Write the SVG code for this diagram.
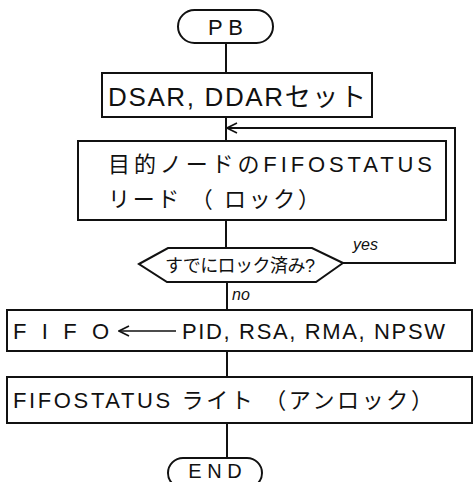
<svg xmlns="http://www.w3.org/2000/svg" width="473" height="482" viewBox="0 0 473 482">
<style>
.s{fill:#fff;stroke:#111;stroke-width:2}
.c{fill:none;stroke:#111;stroke-width:2}
text{font-family:"Liberation Sans","Noto Sans CJK JP",sans-serif;fill:#111}
.t{font-size:22px}
.l{font-size:16px;font-style:italic}
</style>
<defs>
<marker id="ah" viewBox="0 0 12 12" refX="11" refY="6" markerWidth="12" markerHeight="12" markerUnits="userSpaceOnUse" orient="auto">
<path d="M1,1 L11,6 L1,11" fill="none" stroke="#111" stroke-width="1.6"/>
</marker>
</defs>
<rect width="473" height="482" fill="#fff"/>
<g id="connectors">
<line class="c" x1="226" y1="43" x2="226" y2="73"/>
<line class="c" x1="226" y1="117" x2="226" y2="141"/>
<line class="c" x1="226" y1="220" x2="226" y2="248"/>
<line class="c" x1="227" y1="282" x2="227" y2="310"/>
<line class="c" x1="227" y1="351" x2="227" y2="377"/>
<line class="c" x1="227" y1="423" x2="227" y2="458"/>
<polyline class="c" points="343,263 455,263 455,128 227,128" marker-end="url(#ah)"/>
</g>
<g id="pb">
<rect class="s" x="178" y="10" width="95" height="33" rx="16.5"/>
<text class="t" x="225.5" y="35" text-anchor="middle" font-size="24">P B</text>
</g>
<g id="dsar">
<rect class="s" x="102" y="73" width="270" height="44"/>
<text x="108" y="106" font-size="26" textLength="258" lengthAdjust="spacing">DSAR, DDARセット</text>
</g>
<g id="read">
<rect class="s" x="78" y="141" width="368" height="79"/>
<text x="108" y="172" font-size="22" textLength="324" lengthAdjust="spacing">目的ノードのFIFOSTATUS</text>
<text x="108" y="207" font-size="22" textLength="212" lengthAdjust="spacing">リード （ ロック）</text>
</g>
<g id="check">
<polygon class="s" points="139,264 168,248 312,248 343,263 316,282 167,282"/>
<text x="165" y="272" font-size="18" textLength="150" lengthAdjust="spacing">すでにロック済み?</text>
<text class="l" x="353" y="250">yes</text>
<text class="l" x="232" y="300">no</text>
</g>
<g id="fifo">
<rect class="s" x="7" y="310" width="465" height="41"/>
<text x="13" y="339" font-size="22" textLength="96" lengthAdjust="spacing">FIFO</text>
<line x1="176" y1="331" x2="119" y2="331" stroke="#111" stroke-width="1.6" marker-end="url(#ah)"/>
<text x="182" y="339" font-size="22" textLength="263" lengthAdjust="spacing">PID, RSA, RMA, NPSW</text>
</g>
<g id="write">
<rect class="s" x="7" y="377" width="465" height="46"/>
<text x="13" y="408" font-size="22" textLength="420" lengthAdjust="spacing">FIFOSTATUS ライト （アンロック）</text>
</g>
<g id="end">
<rect class="s" x="168" y="458" width="94" height="30" rx="15"/>
<text x="215" y="478" text-anchor="middle" font-size="20">E N D</text>
</g>
</svg>
